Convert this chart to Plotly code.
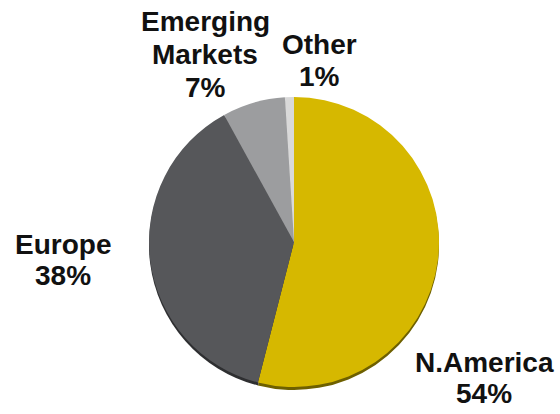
import plotly.graph_objects as go

labels = ["N.America", "Europe", "Emerging Markets", "Other"]
values = [54, 38, 7, 1]
colors = ["#D6B800", "#56575A", "#9C9D9F", "#D9D9D9"]
rim_colors = ["#6E6000", "#2E2F31", "#5E5F61", "#8A8A8A"]

# label placement (pixel centres of first line, line spacing)
label_pos = {
    "N.America": (484, 362, 31),
    "Europe": (63, 245, 30),
    "Emerging Markets": (205, 21, 33),
    "Other": (319, 44, 32),
}

W, H = 560, 414
cx, cy, r = 294, 242, 145

def dom(dy=0):
    return dict(x=[(cx - r) / W, (cx + r) / W],
                y=[(H - cy - r - dy) / H, (H - cy + r - dy) / H])

fig = go.Figure()
# dark rim (3D edge)
fig.add_trace(go.Pie(labels=labels, values=values, sort=False, direction="clockwise",
                     rotation=0, marker=dict(colors=rim_colors, line=dict(width=0)),
                     textinfo="none", hoverinfo="skip", domain=dom(3), showlegend=False))
fig.add_trace(go.Pie(labels=labels, values=values, sort=False, direction="clockwise",
                     rotation=0, marker=dict(colors=colors, line=dict(width=0)),
                     textinfo="none", hoverinfo="label+percent", domain=dom(0), showlegend=False))

annotations = []
for lab, val in zip(labels, values):
    x, y0, sp = label_pos[lab]
    lines = lab.split(" ") + [f"{val}%"]
    for i, t in enumerate(lines):
        annotations.append(dict(
            text=f"<b>{t}</b>", x=x / W, y=1 - (y0 + i * sp) / H,
            xref="paper", yref="paper", xanchor="center", yanchor="middle",
            showarrow=False,
            font=dict(family="Liberation Sans, Arial, sans-serif", size=28, color="#111111")))

fig.update_layout(width=W, height=H, margin=dict(l=0, r=0, t=0, b=0),
                  paper_bgcolor="white", plot_bgcolor="white",
                  annotations=annotations)

fig.write_html("out.html")
